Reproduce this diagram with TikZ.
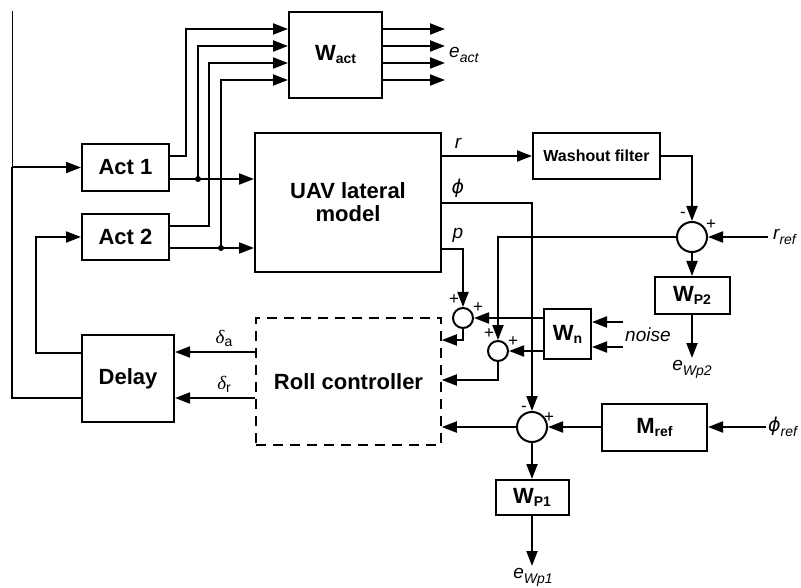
\documentclass[tikz,border=0pt]{standalone}
\usepackage{fontspec}
\setmainfont{Liberation Sans}
\newfontfamily\grk{DejaVu Sans}
\newfontfamily\grkserif{Liberation Serif}
\usetikzlibrary{arrows.meta,calc}
\newcommand{\blksub}[2]{#1\raisebox{-3pt}{\fontsize{14}{14}\selectfont #2}}
\newcommand{\itsub}[2]{#1\raisebox{-5pt}{\fontsize{14}{14}\selectfont\itshape #2}}
\newcommand{\phisym}{{\grk\itshape ϕ}}
\newcommand{\delsym}{{\grkserif\itshape δ}}
\tikzset{
 blk/.style={draw, line width=2pt, rectangle, inner sep=0pt, font=\fontsize{22}{23}\selectfont\bfseries, align=center},
 sumc/.style={draw, circle, line width=2pt, inner sep=0pt},
 wire/.style={line width=2pt},
 arr/.style={wire, -{Triangle[length=15pt,width=11pt]}},
 lbl/.style={font=\fontsize{19}{21}\selectfont\itshape, inner sep=1pt},
 sgn/.style={font=\fontsize{17}{17}\selectfont, inner sep=0pt},
}
\begin{document}
\begin{tikzpicture}[x=1pt,y=-1pt]
\useasboundingbox (0,0) rectangle (801,588);
% blocks
\node[blk, minimum width=87pt, minimum height=47pt] (act1) at (125.5,167.5) {Act 1};
\node[blk, minimum width=87pt, minimum height=46pt] (act2) at (125.5,237) {Act 2};
\node[blk, minimum width=93pt, minimum height=86pt] (wact) at (335.5,55) {\blksub{W}{act}};
\node[blk, minimum width=186pt, minimum height=139pt] (uav) at (348,202.5) {UAV lateral\\model};
\node[blk, minimum width=127pt, minimum height=46pt, font=\fontsize{16}{18}\selectfont\bfseries] (wash) at (596.5,156) {Washout filter};
\node[sumc, minimum size=30pt] (sum2) at (692,237) {};
\node[blk, minimum width=75pt, minimum height=37pt] (wp2) at (692,295.5) {\blksub{W}{P2}};
\node[blk, minimum width=47pt, minimum height=50pt] (wn) at (567.5,334) {\blksub{W}{n}};
\node[sumc, minimum size=20pt] (suma) at (463,318) {};
\node[sumc, minimum size=20pt] (sumb) at (498,351) {};
\node[sumc, minimum size=30pt] (sum1) at (532,427) {};
\node[blk, minimum width=105pt, minimum height=47pt] (mref) at (654.5,427) {\blksub{M}{ref}};
\node[blk, minimum width=73pt, minimum height=35pt] (wp1) at (532,497.5) {\blksub{W}{P1}};
\node[blk, dash pattern=on 10pt off 7pt, line width=1.6pt, minimum width=185pt, minimum height=127pt] (rc) at (348.5,381.5) {Roll controller};
\node[blk, minimum width=92pt, minimum height=87pt] (delay) at (128,378.5) {Delay};
% labels
\node[lbl, anchor=west] (eact) at (448,55) {\itsub{e}{act}};
\node[lbl] (rl) at (458,143) {r};
\node[lbl] (phil) at (458,188) {\phisym};
\node[lbl] (pl) at (458,235) {p};
\node[lbl, anchor=west, inner sep=5pt] (rref) at (768,237) {\itsub{r}{ref}};
\node[lbl, anchor=west, inner sep=2pt] (phiref) at (766,427) {\itsub{\phisym}{ref}};
\node[lbl, anchor=west, inner sep=2pt] (noise) at (623,335) {noise};
\node[lbl, anchor=north, inner sep=2pt] (ewp2) at (692,358) {\itsub{e}{Wp2}};
\node[lbl, anchor=north, inner sep=2pt] (ewp1) at (533,566) {\itsub{e}{Wp1}};
\node[lbl] (dal) at (224,338) {\delsym\raisebox{-3pt}{\fontsize{14}{14}\selectfont\upshape a}};
\node[lbl] (drl) at (224,384) {\delsym\raisebox{-3pt}{\fontsize{14}{14}\selectfont\upshape r}};
% signs
\node[sgn] (s2m) at (683,215) {-};
\node[sgn] (s2p) at (711,225) {+};
\node[sgn] (sa1) at (454,300) {+};
\node[sgn] (sa2) at (478,308) {+};
\node[sgn] (sb1) at (489,334) {+};
\node[sgn] (sb2) at (513,342) {+};
\node[sgn] (s1m) at (524,409) {-};
\node[sgn] (s1p) at (549,418) {+};
% actuator wiring
\draw[arr] (act1.east |- 0,156) -| (186,29) -- (wact.west |- 0,29);
\draw[arr] (act1.east |- 0,179) -- (uav.west |- 0,179);
\fill (198,179) circle (3pt);
\draw[arr] (198,179) |- (wact.west |- 0,46);
\draw[arr] (act2.east |- 0,226) -| (209,63) -- (wact.west |- 0,63);
\draw[arr] (act2.east |- 0,248) -- (uav.west |- 0,248);
\fill (221,248) circle (3pt);
\draw[arr] (221,248) |- (wact.west |- 0,80);
\foreach \y in {29,46,63,80} \draw[arr] (wact.east |- 0,\y) -- (445,\y);
% feedback to actuators
\draw[wire] (delay.west |- 0,398) -| (12,167.5);
\draw[line width=0.8pt] (12,167.5) -- (12,11);
\draw[arr] (12,167.5) -- (act1.west);
\draw[arr] (delay.west |- 0,353) -| (36,237) -- (act2.west);
% controller outputs
\draw[arr] (rc.west |- 0,352) -- (delay.east |- 0,352);
\draw[arr] (rc.west |- 0,398) -- (delay.east |- 0,398);
% UAV outputs
\draw[arr] (uav.east |- wash.west) -- (wash.west);
\draw[arr] (uav.east |- 0,203) -| (sum1.north);
\draw[arr] (uav.east |- 0,249) -| (suma.north);
\draw[arr] (wash.east) -| (sum2.north);
\draw[arr] (rref.west) -- (sum2.east);
\draw[arr] (sum2.west) -| (sumb.north);
\draw[arr] (sum2.south) -- (wp2.north);
\draw[arr] (wp2.south) -- (wp2.south |- ewp2.north);
% noise
\draw[arr] (wn.west |- suma.east) -- (suma.east);
\draw[arr] (wn.west |- sumb.east) -- (sumb.east);
\draw[arr] (noise.west |- 0,322) -- (wn.east |- 0,322);
\draw[arr] (noise.west |- 0,347) -- (wn.east |- 0,347);
% into controller
\draw[arr] (suma.south) |- (rc.east |- 0,340);
\draw[arr] (sumb.south) |- (rc.east |- 0,380);
\draw[arr] (sum1.west) -- (rc.east |- sum1.west);
\draw[arr] (sum1.south) -- (wp1.north);
\draw[arr] (wp1.south) -- (wp1.south |- ewp1.north);
\draw[arr] (mref.west) -- (sum1.east);
\draw[arr] (phiref.west) -- (mref.east);
\end{tikzpicture}
\end{document}
